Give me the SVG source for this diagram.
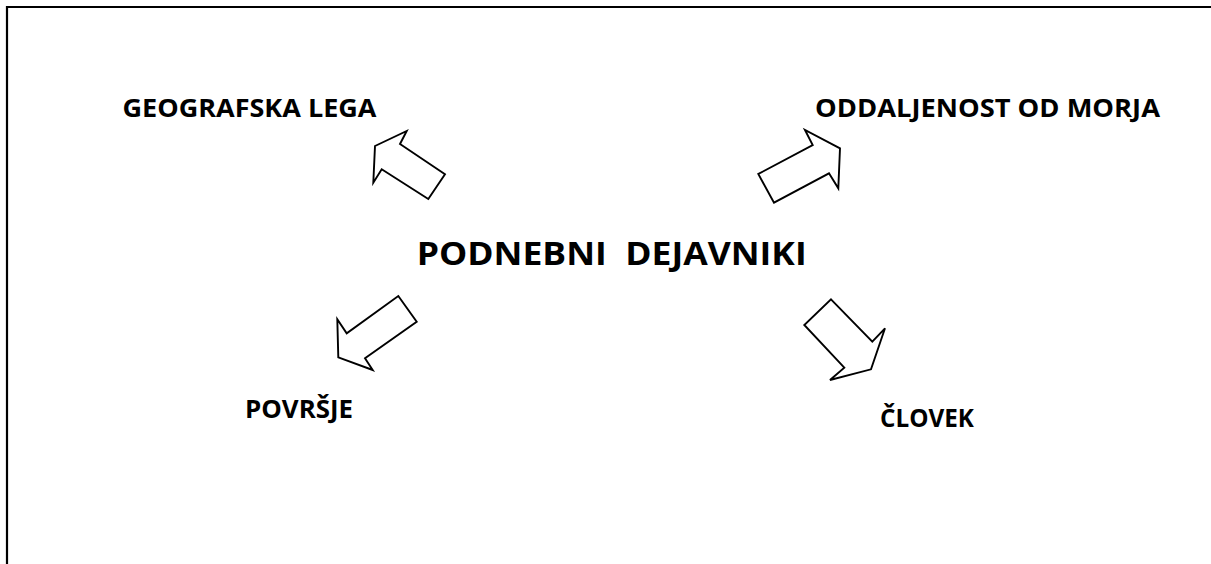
<svg xmlns="http://www.w3.org/2000/svg" width="1211" height="564" viewBox="0 0 1211 564">
<style>
.lbl{font-family:"Open Sans","Liberation Sans",sans-serif;font-weight:bold;fill:#000}
.arr{fill:#fff;stroke:#000;stroke-width:1.9;stroke-linejoin:miter}
</style>
<rect width="1211" height="564" fill="#fff"/>
<path d="M7,564 V7 H1211" fill="none" stroke="#000" stroke-width="2.2"/>
<g id="center"><text class="lbl" x="416.7" y="265" font-size="32.5" textLength="390" lengthAdjust="spacingAndGlyphs" xml:space="preserve">PODNEBNI  DEJAVNIKI</text></g>
<g id="geo"><text class="lbl" x="122.5" y="116.7" font-size="25.6" textLength="254" lengthAdjust="spacingAndGlyphs">GEOGRAFSKA LEGA</text></g>
<g id="odd"><text class="lbl" x="815" y="116.7" font-size="25.6" textLength="345" lengthAdjust="spacingAndGlyphs">ODDALJENOST OD MORJA</text></g>
<g id="pov"><text class="lbl" x="245" y="418.3" font-size="25.6" textLength="108" lengthAdjust="spacingAndGlyphs">POVRŠJE</text></g>
<g id="clo"><text class="lbl" x="880" y="426.5" font-size="25.6" textLength="94" lengthAdjust="spacingAndGlyphs">ČLOVEK</text></g>
<g id="connectors">
<polygon class="arr" points="406.7,131 400,144 445,174.3 428.3,199 381.7,169.3 373.3,182.7 375,146"/>
<polygon class="arr" points="805,130 812.7,145 758.3,174 774,202.7 829,173.3 838.3,188.3 840,148.3"/>
<polygon class="arr" points="398.3,296 416.7,321.7 365,358.3 372.7,370 338.3,357.3 337.3,319.3 346.7,333.3"/>
<polygon class="arr" points="831,299.3 872.3,341.7 885,328.3 871,369.3 830,380 844.3,367.7 804.3,325"/>
</g>
</svg>
